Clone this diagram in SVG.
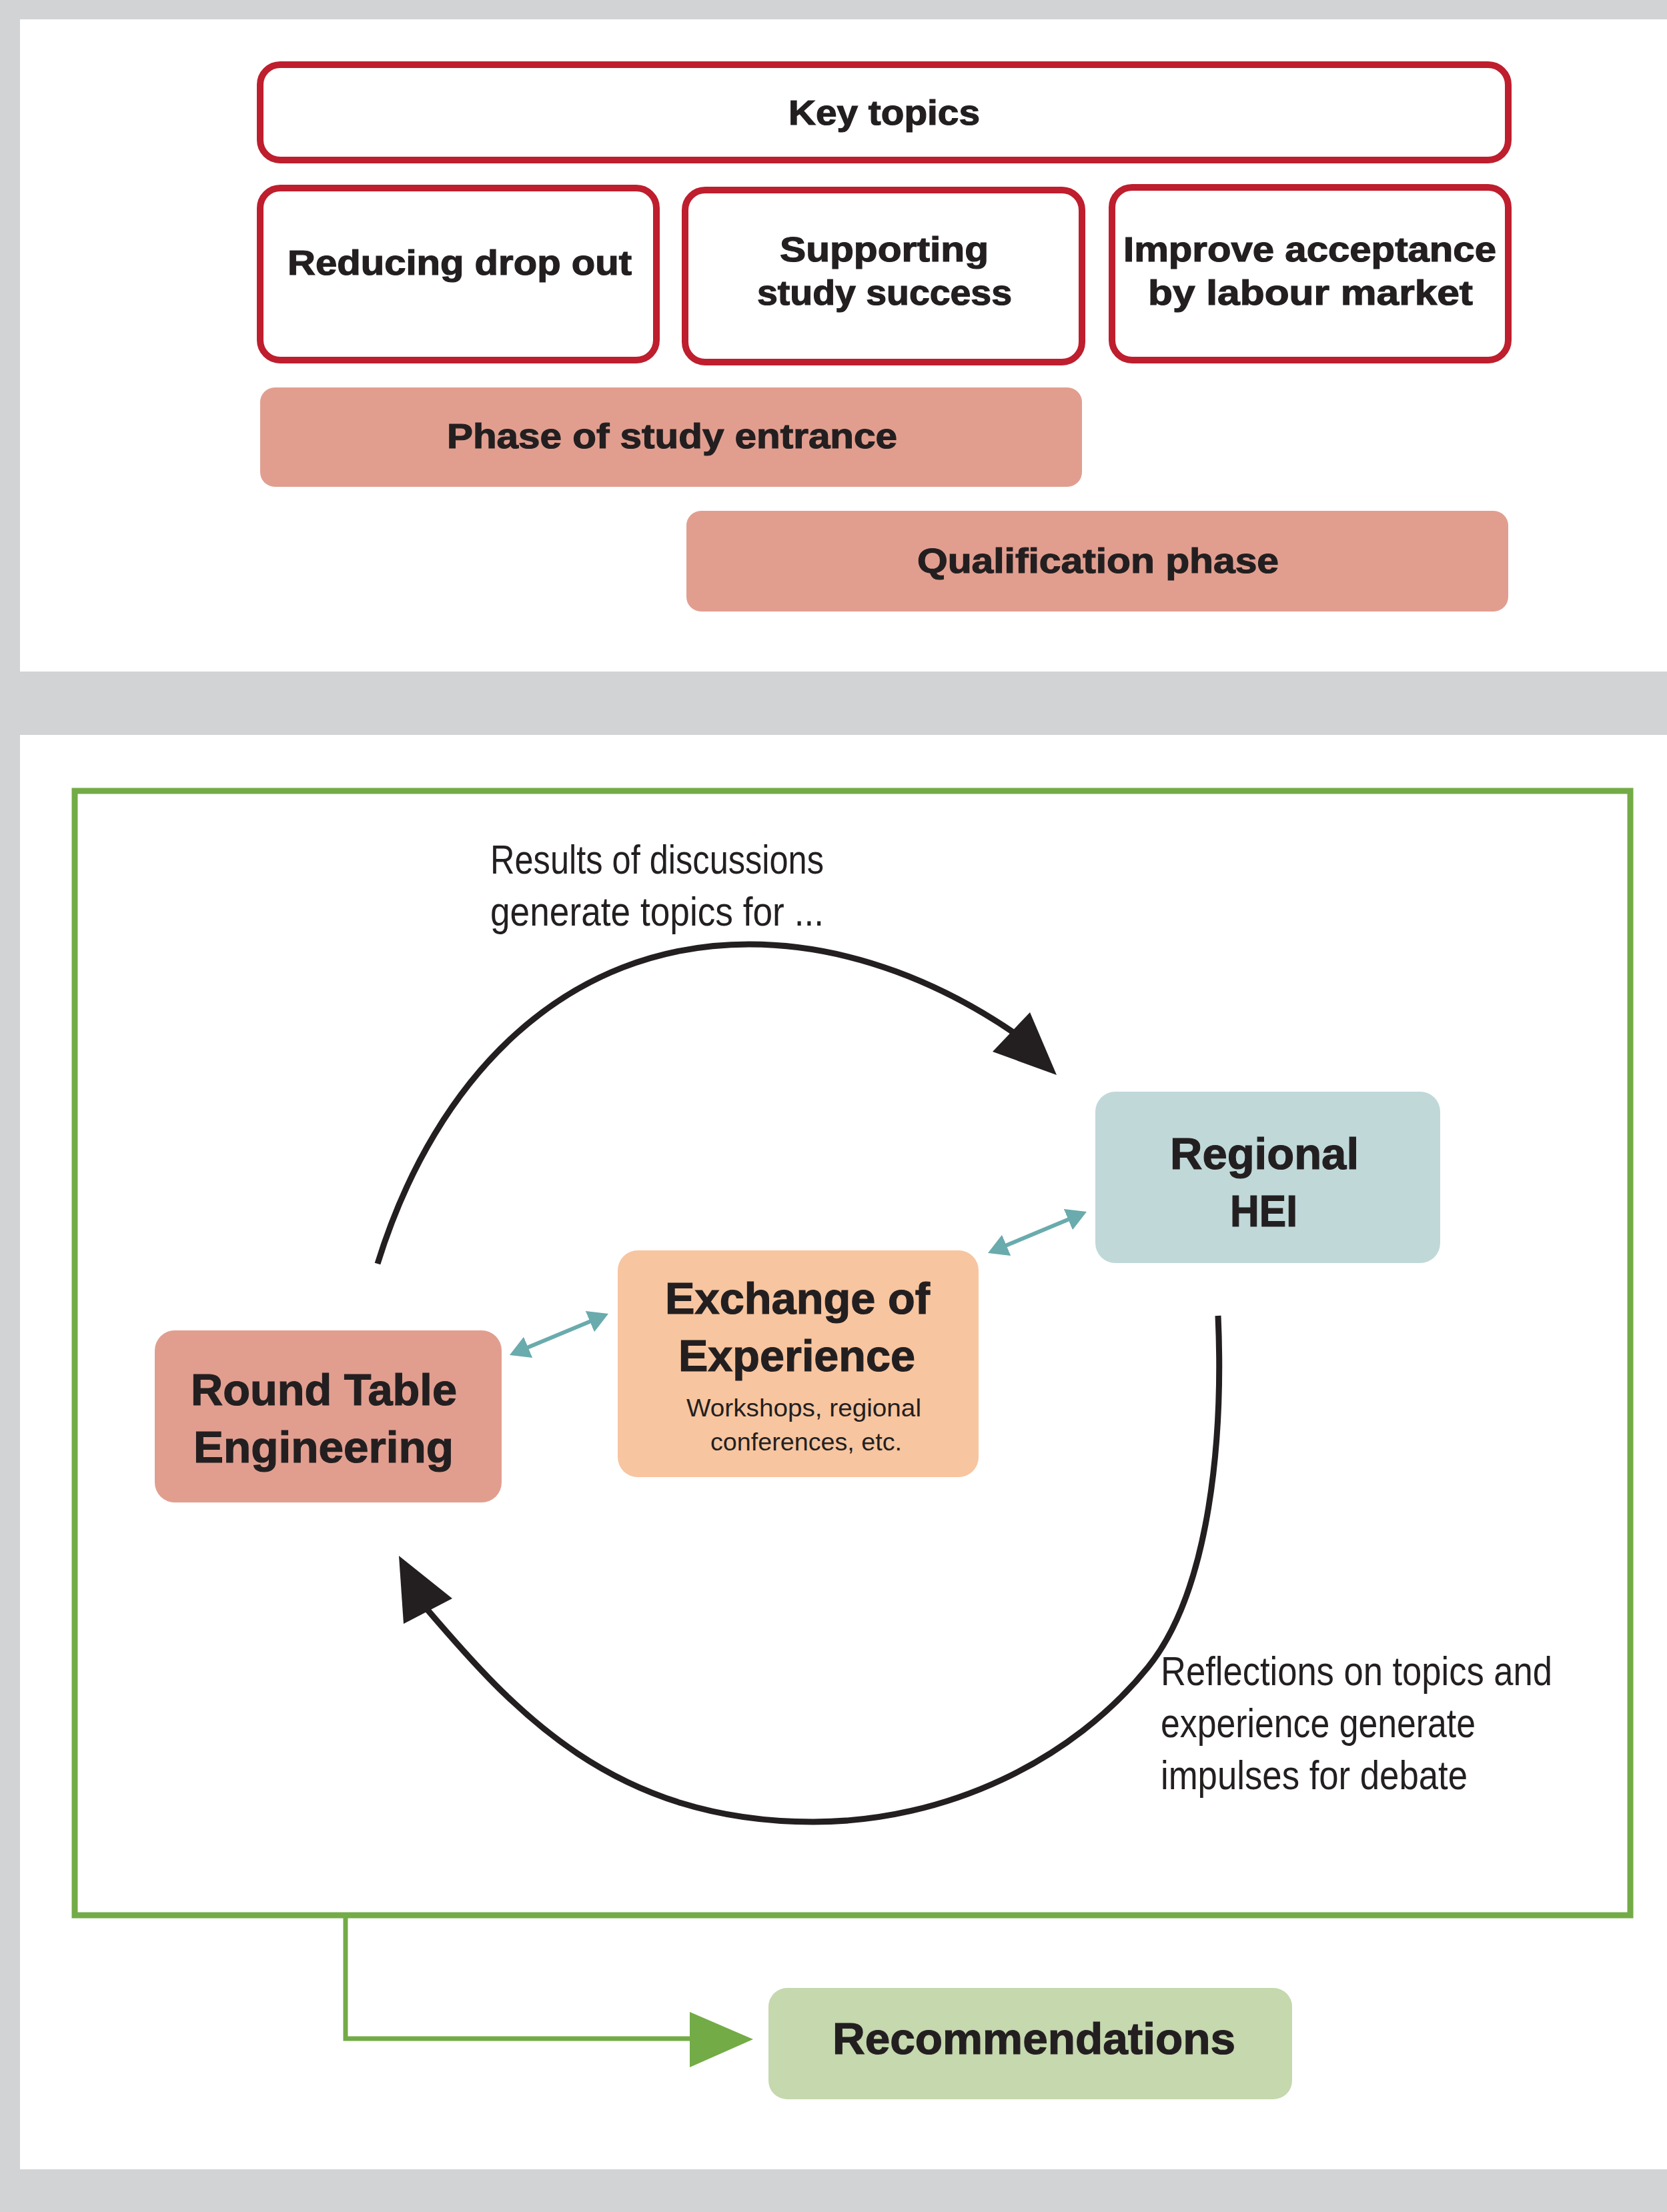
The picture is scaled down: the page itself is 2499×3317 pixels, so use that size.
<svg xmlns="http://www.w3.org/2000/svg" width="2499" height="3317" viewBox="0 0 2499 3317">
<defs>
<style>
.bg{fill:#d1d3d4}
.panel{fill:#ffffff}
.topic{fill:#ffffff;stroke:#be1e2d;stroke-width:10}
.phase{fill:#e19e8f}
.hei{fill:#c1d8d9}
.exch{fill:#f7c5a0}
.rte{fill:#e19e8f}
.rec{fill:#c5d8ae}
.frame{fill:none;stroke:#73ab47;stroke-width:9}
.bold{font-family:"Liberation Sans",Arial,sans-serif;font-weight:bold;fill:#231f20;stroke:#231f20;stroke-width:1.2}
.b52{font-size:51px}
.b67{font-size:67px}
.reg{font-family:"Liberation Sans",Arial,sans-serif;font-weight:normal;fill:#231f20}
.r37{font-size:37px}
.r62{font-size:62px}
.arc{fill:none;stroke:#231f20;stroke-width:9}
.head{fill:#231f20}
.teal{stroke:#6aabad;stroke-width:6;fill:none;marker-start:url(#th);marker-end:url(#th)}
.gline{fill:none;stroke:#73ab47;stroke-width:7}
.ghead{fill:#73ab47}
</style>
<marker id="th" viewBox="0 0 30 34" refX="20" refY="17" markerWidth="30" markerHeight="34" markerUnits="userSpaceOnUse" orient="auto-start-reverse">
<path d="M0,0 L30,17 L0,34 z" fill="#6aabad"/>
</marker>
</defs>
<rect class="bg" x="0" y="0" width="2499" height="3317"/>
<rect class="panel" x="30" y="29" width="2469" height="978"/>
<rect class="panel" x="30" y="1102" width="2469" height="2151"/>

<g id="key-topics">
<rect class="topic" x="390" y="97" width="1871" height="143" rx="30"/>
<text class="bold b52" x="1182" y="187" textLength="287" lengthAdjust="spacingAndGlyphs">Key topics</text>
</g>
<g id="reducing-drop-out">
<rect class="topic" x="390" y="282" width="594" height="258" rx="30"/>
<text class="bold b52" x="431" y="412" textLength="516" lengthAdjust="spacingAndGlyphs">Reducing drop out</text>
</g>
<g id="supporting-study-success">
<rect class="topic" x="1027" y="285" width="595" height="258" rx="30"/>
<text class="bold b52" x="1169" y="392" textLength="313" lengthAdjust="spacingAndGlyphs">Supporting</text>
<text class="bold b52" x="1135" y="457" textLength="382" lengthAdjust="spacingAndGlyphs">study success</text>
</g>
<g id="improve-acceptance">
<rect class="topic" x="1667" y="281" width="594" height="259" rx="30"/>
<text class="bold b52" x="1684" y="392" textLength="559" lengthAdjust="spacingAndGlyphs">Improve acceptance</text>
<text class="bold b52" x="1721" y="457" textLength="487" lengthAdjust="spacingAndGlyphs">by labour market</text>
</g>
<g id="phase-study-entrance">
<rect class="phase" x="390" y="581" width="1232" height="149" rx="22"/>
<text class="bold b52" x="670" y="672" textLength="675" lengthAdjust="spacingAndGlyphs">Phase of study entrance</text>
</g>
<g id="qualification-phase">
<rect class="phase" x="1029" y="766" width="1232" height="151" rx="22"/>
<text class="bold b52" x="1375" y="859" textLength="542" lengthAdjust="spacingAndGlyphs">Qualification phase</text>
</g>

<g id="process-frame">
<rect class="frame" x="112" y="1186" width="2332" height="1686"/>
</g>
<g id="regional-hei">
<rect class="hei" x="1642" y="1637" width="517" height="257" rx="30"/>
<text class="bold b67" x="1754" y="1753" textLength="283" lengthAdjust="spacingAndGlyphs">Regional</text>
<text class="bold b67" x="1844" y="1839" textLength="101" lengthAdjust="spacingAndGlyphs">HEI</text>
</g>
<g id="exchange-of-experience">
<rect class="exch" x="926" y="1875" width="541" height="340" rx="30"/>
<text class="bold b67" x="997" y="1970" textLength="397" lengthAdjust="spacingAndGlyphs">Exchange of</text>
<text class="bold b67" x="1017" y="2056" textLength="355" lengthAdjust="spacingAndGlyphs">Experience</text>
<text class="reg r37" x="1029" y="2124" textLength="352" lengthAdjust="spacingAndGlyphs">Workshops, regional</text>
<text class="reg r37" x="1065" y="2175" textLength="287" lengthAdjust="spacingAndGlyphs">conferences, etc.</text>
</g>
<g id="round-table-engineering">
<rect class="rte" x="232" y="1995" width="520" height="258" rx="30"/>
<text class="bold b67" x="286" y="2107" textLength="399" lengthAdjust="spacingAndGlyphs">Round Table</text>
<text class="bold b67" x="290" y="2193" textLength="390" lengthAdjust="spacingAndGlyphs">Engineering</text>
</g>
<g id="recommendations">
<rect class="rec" x="1152" y="2981" width="785" height="167" rx="28"/>
<text class="bold b67" x="1248" y="3080" textLength="604" lengthAdjust="spacingAndGlyphs">Recommendations</text>
</g>
<g id="labels">
<text class="reg r62" x="735" y="1310" textLength="500" lengthAdjust="spacingAndGlyphs">Results of discussions</text>
<text class="reg r62" x="735" y="1388" textLength="500" lengthAdjust="spacingAndGlyphs">generate topics for ...</text>
<text class="reg r62" x="1740" y="2527" textLength="587" lengthAdjust="spacingAndGlyphs">Reflections on topics and</text>
<text class="reg r62" x="1740" y="2605" textLength="472" lengthAdjust="spacingAndGlyphs">experience generate</text>
<text class="reg r62" x="1740" y="2683" textLength="460" lengthAdjust="spacingAndGlyphs">impulses for debate</text>
</g>

<g id="connectors">
<path class="arc" d="M566,1895 C654,1611 850,1416 1123,1416 C1280,1416 1420,1480 1522,1550"/>
<polygon class="head" points="1584,1612 1544,1518 1488,1577"/>
<path class="arc" d="M1826,1973 C1834,2153 1815,2383 1721,2500 C1608,2640 1419,2732 1219,2732 C919,2732 770,2565 640,2413"/>
<polygon class="head" points="598,2333 678,2397 605,2435"/>
<line class="teal" x1="773.2" y1="2028.1" x2="902.8" y2="1973.9"/>
<line class="teal" x1="1490.2" y1="1875.1" x2="1619.8" y2="1820.9"/>
<polyline class="gline" points="518,2876 518,3057 1040,3057"/>
<polygon class="ghead" points="1034,3017 1129,3058 1034,3100"/>
</g>
</svg>
